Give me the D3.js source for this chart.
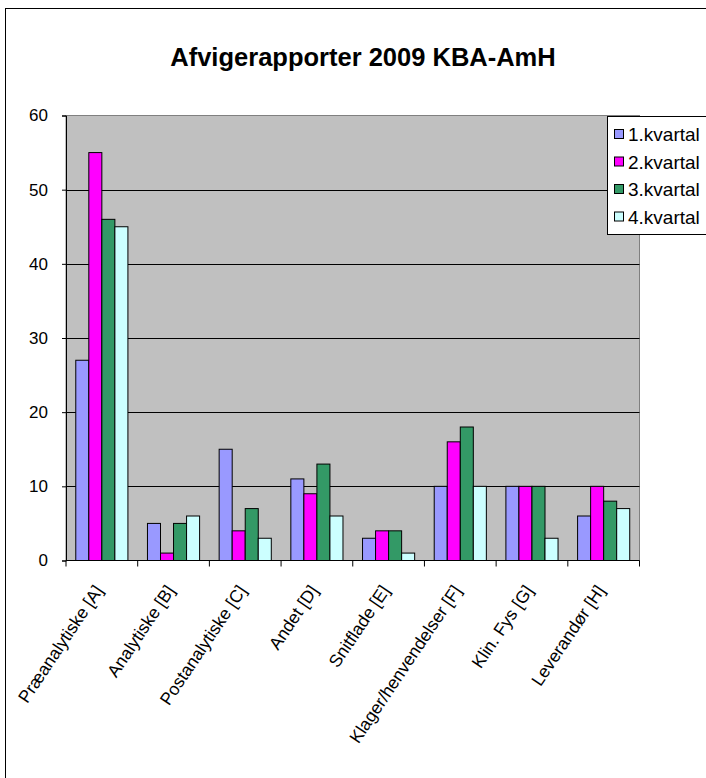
<!DOCTYPE html>
<html><head><meta charset="utf-8">
<script src="https://cdn.jsdelivr.net/npm/d3@7"></script>
<style>
html,body{margin:0;padding:0;background:#fff;}
text{font-family:"Liberation Sans",Arial,sans-serif;}
</style></head>
<body>
<svg id="chart" width="706" height="778"></svg>
<script>
const categories = ["Præanalytiske [A]","Analytiske [B]","Postanalytiske [C]","Andet [D]","Snitflade [E]","Klager/henvendelser [F]","Klin. Fys [G]","Leverandør [H]"];
const seriesNames = ["1.kvartal","2.kvartal","3.kvartal","4.kvartal"];
const q1 = [27,5,15,11,3,10,10,6];
const q2 = [55,1,4,9,4,16,10,10];
const q3 = [46,5,7,13,4,18,10,8];
const q4 = [45,6,3,6,1,10,3,7];
const colors = ["#9999FF","#FF00FF","#339966","#CCFFFF"];
const yTicks = [0,10,20,30,40,50,60];
const title = "Afvigerapporter 2009 KBA-AmH";

const series = [q1,q2,q3,q4];
const svg = d3.select("#chart");

// outer chart border
svg.append("rect").attr("x",5.5).attr("y",8.5).attr("width",800).attr("height",800)
  .attr("fill","#fff").attr("stroke","#000").attr("stroke-width",1);

const L = 66, R = 639.5, T = 115.5, B = 560.5;
const x0 = d3.scaleBand().domain(categories).range([L,R]).paddingInner(0).paddingOuter(0);
// Excel gap width 150%: bar width = band/5.5, outer padding 0.75 bar each side
const x1 = d3.scaleBand().domain(d3.range(4)).range([0,x0.bandwidth()]).paddingInner(0).paddingOuter(0.75);
const y = d3.scaleLinear().domain([0,60]).range([B,T]);

// plot area
svg.append("rect").attr("x",L).attr("y",T).attr("width",R-L).attr("height",B-T)
  .attr("fill","#C0C0C0").attr("stroke","#808080").attr("stroke-width",1);

// gridlines
svg.append("g").selectAll("line").data(yTicks.filter(d=>d>0 && d<60)).join("line")
  .attr("x1",L).attr("x2",R).attr("y1",d=>Math.round(y(d))+0.5).attr("y2",d=>Math.round(y(d))+0.5)
  .attr("stroke","#000").attr("stroke-width",1);

// bars
const g = svg.append("g");
categories.forEach((c,i)=>{
  series.forEach((s,j)=>{
    g.append("rect")
      .attr("x",x0(c)+x1(j)).attr("y",y(s[i]))
      .attr("width",x1.bandwidth()).attr("height",B-y(s[i]))
      .attr("fill",colors[j]).attr("stroke","#000").attr("stroke-width",1);
  });
});

// y axis
const yAxis = d3.axisLeft(y).tickValues(yTicks).tickSize(4).tickPadding(14);
const ya = svg.append("g").attr("transform",`translate(${L},0)`).call(yAxis);
ya.select(".domain").attr("stroke","#000");
ya.selectAll(".tick line").attr("stroke","#000");
ya.selectAll("text").attr("font-size",17).attr("fill","#000").attr("font-family","Liberation Sans, Arial, sans-serif");

// x axis: ticks at category boundaries
const boundaries = categories.map(c=>x0(c)).concat([R]);
svg.append("line").attr("x1",L).attr("x2",R).attr("y1",B).attr("y2",B).attr("stroke","#000");
svg.append("g").selectAll("line").data(boundaries).join("line")
  .attr("x1",d=>d).attr("x2",d=>d).attr("y1",B).attr("y2",B+6).attr("stroke","#000");

// x labels
svg.append("g").selectAll("text").data(categories).join("text")
  .attr("transform",d=>`translate(${x0(d)+x0.bandwidth()/2+2},${B+30}) rotate(-56)`)
  .attr("text-anchor","end").attr("font-size",17.5).attr("fill","#000")
  .text(d=>d);

// title
svg.append("text").attr("x",363).attr("y",66).attr("text-anchor","middle")
  .attr("font-size",25.5).attr("font-weight","bold").attr("fill","#000").text(title);

// legend
const lg = svg.append("g");
lg.append("rect").attr("x",607.5).attr("y",116.5).attr("width",200).attr("height",118)
  .attr("fill","#fff").attr("stroke","#000");
seriesNames.forEach((n,j)=>{
  const cy = 134 + j*27.5;
  lg.append("rect").attr("x",614.5).attr("y",cy-4.5).attr("width",9).attr("height",9)
    .attr("fill",colors[j]).attr("stroke","#000");
  lg.append("text").attr("x",628).attr("y",cy+7).attr("font-size",19).attr("fill","#000").text(n);
});
</script>
</body></html>
